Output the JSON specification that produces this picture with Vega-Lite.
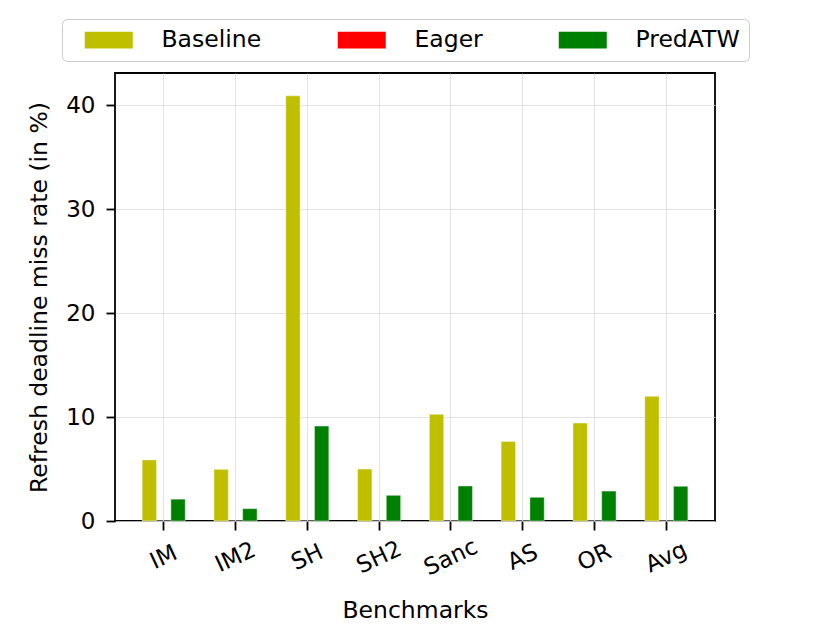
{
  "$schema": "https://vega.github.io/schema/vega-lite/v6.json",
  "autosize": "none",
  "width": 600,
  "height": 448,
  "padding": {"left": 115, "top": 73, "right": 116, "bottom": 119},
  "background": "white",
  "config": {
    "font": "DejaVu Sans",
    "view": {"stroke": "black", "strokeWidth": 1.8},
    "axis": {
      "grid": true,
      "gridColor": "#dcdcdc",
      "gridWidth": 0.8,
      "domain": false,
      "ticks": true,
      "tickColor": "black",
      "tickSize": 9,
      "tickWidth": 1.8,
      "tickOpacity": 1,
      "labelFontSize": 23,
      "labelColor": "black",
      "titleFontSize": 23.5,
      "titleFontWeight": "normal",
      "titleColor": "black"
    }
  },
  "data": {
    "values": [
      {"bench": "IM", "scheme": "Baseline", "rate": 5.87},
      {"bench": "IM", "scheme": "Eager", "rate": 0},
      {"bench": "IM", "scheme": "PredATW", "rate": 2.1},
      {"bench": "IM2", "scheme": "Baseline", "rate": 4.97},
      {"bench": "IM2", "scheme": "Eager", "rate": 0},
      {"bench": "IM2", "scheme": "PredATW", "rate": 1.19},
      {"bench": "SH", "scheme": "Baseline", "rate": 40.9},
      {"bench": "SH", "scheme": "Eager", "rate": 0},
      {"bench": "SH", "scheme": "PredATW", "rate": 9.13},
      {"bench": "SH2", "scheme": "Baseline", "rate": 5.0},
      {"bench": "SH2", "scheme": "Eager", "rate": 0},
      {"bench": "SH2", "scheme": "PredATW", "rate": 2.47},
      {"bench": "Sanc", "scheme": "Baseline", "rate": 10.26},
      {"bench": "Sanc", "scheme": "Eager", "rate": 0},
      {"bench": "Sanc", "scheme": "PredATW", "rate": 3.37},
      {"bench": "AS", "scheme": "Baseline", "rate": 7.66},
      {"bench": "AS", "scheme": "Eager", "rate": 0},
      {"bench": "AS", "scheme": "PredATW", "rate": 2.28},
      {"bench": "OR", "scheme": "Baseline", "rate": 9.42},
      {"bench": "OR", "scheme": "Eager", "rate": 0},
      {"bench": "OR", "scheme": "PredATW", "rate": 2.88},
      {"bench": "Avg", "scheme": "Baseline", "rate": 12.0},
      {"bench": "Avg", "scheme": "Eager", "rate": 0},
      {"bench": "Avg", "scheme": "PredATW", "rate": 3.34}
    ]
  },
  "mark": {"type": "bar", "stroke": "#ffffff", "strokeOpacity": 0.5, "strokeWidth": 0.8},
  "encoding": {
    "x": {
      "field": "bench",
      "type": "nominal",
      "sort": null,
      "scale": {"paddingInner": 0, "paddingOuter": 0.178},
      "axis": {
        "title": "Benchmarks",
        "ticks": true,
        "labelAngle": -25,
        "labelAlign": "center",
        "labelBaseline": "middle",
        "labelPadding": 27,
        "bandPosition": 0.5,
        "titlePadding": 19
      }
    },
    "xOffset": {
      "field": "scheme",
      "type": "nominal",
      "sort": ["Baseline", "Eager", "PredATW"],
      "scale": {"paddingInner": 0, "paddingOuter": 1}
    },
    "y": {
      "field": "rate",
      "type": "quantitative",
      "scale": {"domain": [0, 43.1], "nice": false},
      "axis": {
        "title": "Refresh deadline miss rate (in %)",
        "ticks": true,
        "values": [0, 10, 20, 30, 40],
        "labelPadding": 11,
        "titlePadding": 14
      }
    },
    "color": {
      "field": "scheme",
      "type": "nominal",
      "scale": {
        "domain": ["Baseline", "Eager", "PredATW"],
        "range": ["#bfbf00", "#ff0000", "#008000"]
      },
      "legend": {
        "title": null,
        "orient": "none",
        "direction": "horizontal",
        "legendX": -53,
        "legendY": -54,
        "columns": 3,
        "symbolType": "M-2.4,-0.83L2.4,-0.83L2.4,0.83L-2.4,0.83Z",
        "symbolSize": 400,
        "symbolStrokeWidth": 0,
        "symbolOpacity": 1,
        "symbolOffset": 26,
        "labelFontSize": 23.5,
        "labelColor": "black",
        "labelOffset": 41,
        "columnPadding": 62,
        "padding": 9,
        "strokeColor": "#cccccc",
        "cornerRadius": 5,
        "fillColor": "white"
      }
    }
  }
}
